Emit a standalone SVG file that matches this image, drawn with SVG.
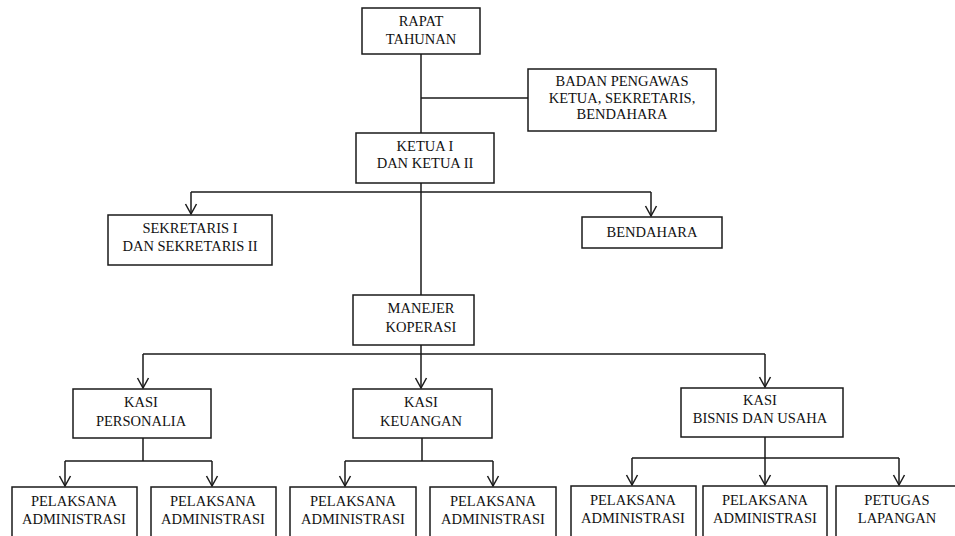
<svg xmlns="http://www.w3.org/2000/svg" width="955" height="536" viewBox="0 0 955 536">
<defs>
<style>
.box{fill:#fff;stroke:#1a1a1a;stroke-width:1.5}
.t{font-family:'Liberation Serif',serif;font-size:14.5px;fill:#111;text-anchor:middle}
.c{fill:none;stroke:#1a1a1a;stroke-width:1.5}
</style>
<marker id="ah" markerUnits="userSpaceOnUse" markerWidth="14" markerHeight="14" viewBox="-12 -7 14 14" refX="0" refY="0" orient="auto">
<path d="M-10,-5.5 L0,0 L-10,5.5" fill="none" stroke="#1a1a1a" stroke-width="1.5"/>
</marker>
</defs>
<rect width="955" height="536" fill="#fff"/>
<g id="connectors">
<path class="c" d="M421,54 V133"/>
<path class="c" d="M421,98 H528"/>
<path class="c" d="M421,183 V295"/>
<path class="c" d="M191,192 H651"/>
<path class="c" d="M191,192 V214" marker-end="url(#ah)"/>
<path class="c" d="M651,192 V216" marker-end="url(#ah)"/>
<path class="c" d="M421,345 V388" marker-end="url(#ah)"/>
<path class="c" d="M143,354 H765"/>
<path class="c" d="M143,354 V388" marker-end="url(#ah)"/>
<path class="c" d="M765,354 V387" marker-end="url(#ah)"/>
<path class="c" d="M143,438 V461 M65,461 H212"/>
<path class="c" d="M65,461 V486" marker-end="url(#ah)"/>
<path class="c" d="M212,461 V486" marker-end="url(#ah)"/>
<path class="c" d="M422,438 V461 M345,461 H493"/>
<path class="c" d="M345,461 V486" marker-end="url(#ah)"/>
<path class="c" d="M493,461 V486" marker-end="url(#ah)"/>
<path class="c" d="M765,437 V458 M632,458 H899"/>
<path class="c" d="M632,458 V485" marker-end="url(#ah)"/>
<path class="c" d="M765,458 V485" marker-end="url(#ah)"/>
<path class="c" d="M899,458 V485" marker-end="url(#ah)"/>
</g>
<g id="rapat-tahunan">
<rect class="box" x="362" y="8" width="118" height="46"/>
<text class="t" x="421" y="26">RAPAT</text>
<text class="t" x="421" y="44">TAHUNAN</text>
</g>
<g id="badan-pengawas">
<rect class="box" x="528" y="69" width="188" height="62"/>
<text class="t" x="622" y="86">BADAN PENGAWAS</text>
<text class="t" x="622" y="103">KETUA, SEKRETARIS,</text>
<text class="t" x="622" y="119">BENDAHARA</text>
</g>
<g id="ketua">
<rect class="box" x="356" y="133" width="138" height="50"/>
<text class="t" x="425" y="151">KETUA I</text>
<text class="t" x="425" y="168">DAN KETUA II</text>
</g>
<g id="sekretaris">
<rect class="box" x="108" y="215" width="164" height="50"/>
<text class="t" x="190" y="233">SEKRETARIS I</text>
<text class="t" x="190" y="251">DAN SEKRETARIS II</text>
</g>
<g id="bendahara">
<rect class="box" x="582" y="217" width="140" height="31"/>
<text class="t" x="652" y="237">BENDAHARA</text>
</g>
<g id="manejer">
<rect class="box" x="353" y="295" width="121" height="50"/>
<text class="t" x="421" y="313">MANEJER</text>
<text class="t" x="421" y="332">KOPERASI</text>
</g>
<g id="kasi-personalia">
<rect class="box" x="73" y="389" width="138" height="49"/>
<text class="t" x="141" y="407">KASI</text>
<text class="t" x="141" y="426">PERSONALIA</text>
</g>
<g id="kasi-keuangan">
<rect class="box" x="353" y="389" width="139" height="49"/>
<text class="t" x="421" y="407">KASI</text>
<text class="t" x="421" y="426">KEUANGAN</text>
</g>
<g id="kasi-bisnis">
<rect class="box" x="681" y="388" width="162" height="49"/>
<text class="t" x="760" y="405">KASI</text>
<text class="t" x="760" y="423">BISNIS DAN USAHA</text>
</g>
<g id="pelaksana-1">
<rect class="box" x="12" y="487" width="125" height="55"/>
<text class="t" x="74" y="506">PELAKSANA</text>
<text class="t" x="74" y="524">ADMINISTRASI</text>
</g>
<g id="pelaksana-2">
<rect class="box" x="151" y="487" width="125" height="55"/>
<text class="t" x="213" y="506">PELAKSANA</text>
<text class="t" x="213" y="524">ADMINISTRASI</text>
</g>
<g id="pelaksana-3">
<rect class="box" x="290" y="487" width="126" height="55"/>
<text class="t" x="353" y="506">PELAKSANA</text>
<text class="t" x="353" y="524">ADMINISTRASI</text>
</g>
<g id="pelaksana-4">
<rect class="box" x="430" y="487" width="126" height="55"/>
<text class="t" x="493" y="506">PELAKSANA</text>
<text class="t" x="493" y="524">ADMINISTRASI</text>
</g>
<g id="pelaksana-5">
<rect class="box" x="571" y="486" width="125" height="56"/>
<text class="t" x="633" y="505">PELAKSANA</text>
<text class="t" x="633" y="523">ADMINISTRASI</text>
</g>
<g id="pelaksana-6">
<rect class="box" x="703" y="486" width="124" height="56"/>
<text class="t" x="765" y="505">PELAKSANA</text>
<text class="t" x="765" y="523">ADMINISTRASI</text>
</g>
<g id="petugas-lapangan">
<rect class="box" x="836" y="486" width="125" height="56"/>
<text class="t" x="897" y="505">PETUGAS</text>
<text class="t" x="897" y="523">LAPANGAN</text>
</g>
</svg>
